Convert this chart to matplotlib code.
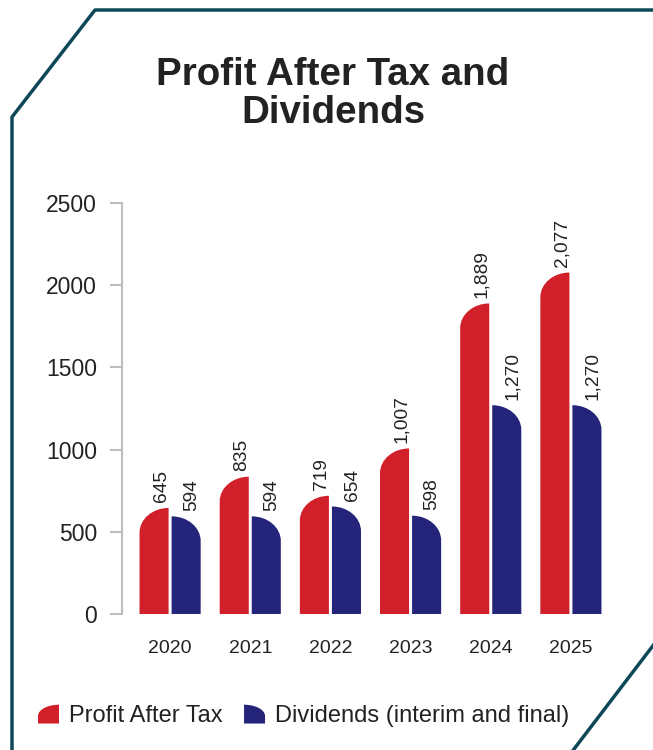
import matplotlib.pyplot as plt
from matplotlib.path import Path
from matplotlib.patches import PathPatch, Rectangle
from matplotlib.legend_handler import HandlerPatch
from matplotlib.lines import Line2D

plt.rcParams['font.family'] = ['Liberation Sans', 'DejaVu Sans']

years = ['2020', '2021', '2022', '2023', '2024', '2025']
profit_after_tax = [645, 835, 719, 1007, 1889, 2077]
dividends = [594, 594, 654, 598, 1270, 1270]

RED = '#d2202a'
BLUE = '#24247a'
FRAME = '#0e4757'
TEXT = '#222222'

bar_w = 0.3625
gap = 0.0375
corner_y = 150  # vertical radius of the rounded corner, data units


def rounded_bar(x0, w, h, ry, side):
    # bar with one rounded top corner (quarter ellipse spanning the bar width)
    k = 0.5523
    x1 = x0 + w
    if side == 'left':
        verts = [(x0, 0), (x1, 0), (x1, h),
                 (x1 - k * w, h), (x0, h - ry + k * ry), (x0, h - ry),
                 (x0, 0)]
    else:
        verts = [(x0, 0), (x1, 0), (x1, h - ry),
                 (x1, h - ry + k * ry), (x0 + k * w, h), (x0, h),
                 (x0, 0)]
    codes = [Path.MOVETO, Path.LINETO, Path.LINETO,
             Path.CURVE4, Path.CURVE4, Path.CURVE4, Path.CLOSEPOLY]
    return Path(verts, codes)


fig = plt.figure(figsize=(6.53, 7.5), dpi=100)
ax = fig.add_axes([122 / 653, 136 / 750, 497 / 653, 411 / 750])

for i, (p, d) in enumerate(zip(profit_after_tax, dividends)):
    xr = i - gap / 2 - bar_w
    xb = i + gap / 2
    ry_p = min(corner_y, p)
    ry_d = min(corner_y, d)
    ax.add_patch(PathPatch(rounded_bar(xr, bar_w, p, ry_p, 'left'),
                           facecolor=RED, edgecolor='none'))
    ax.add_patch(PathPatch(rounded_bar(xb, bar_w, d, ry_d, 'right'),
                           facecolor=BLUE, edgecolor='none'))
    ax.annotate(f'{p:,}', (xr + bar_w / 2, p), xytext=(5, 4),
                textcoords='offset points', rotation=90, ha='center',
                va='bottom', fontsize=13.8, color=TEXT)
    ax.annotate(f'{d:,}', (xb + bar_w / 2, d), xytext=(4, 4),
                textcoords='offset points', rotation=90, ha='center',
                va='bottom', fontsize=13.8, color=TEXT)

ax.set_xlim(-0.6, 5.6)
ax.set_ylim(0, 2500)
ax.set_xticks(range(len(years)))
ax.set_xticklabels(years)
ax.set_yticks([0, 500, 1000, 1500, 2000, 2500])
ax.tick_params(axis='x', length=0, pad=19, labelsize=14, labelcolor=TEXT)
ax.tick_params(axis='y', length=9, width=1.5, color='#bdbdbd', pad=9,
               labelsize=16.5, labelcolor=TEXT)
for s in ['top', 'right', 'bottom']:
    ax.spines[s].set_visible(False)
ax.spines['left'].set_color('#bdbdbd')
ax.spines['left'].set_linewidth(1.5)
ax.patch.set_visible(False)

fig.text(333 / 653, 1 - 94 / 750, 'Profit After Tax and\nDividends',
         ha='center', va='center', fontsize=27.7, fontweight='bold',
         color=TEXT, linespacing=1.1)


# legend with the same rounded-corner shapes as the bars
def make_handle(side):
    def fn(legend, orig_handle, xdescent, ydescent, width, height, fontsize):
        v = rounded_bar(-xdescent, width, height, height * 0.6, side)
        verts = [(x, y - ydescent) for x, y in v.vertices]
        return PathPatch(Path(verts, v.codes))
    return fn


h_red = Rectangle((0, 0), 1, 1, facecolor=RED, edgecolor='none')
h_blue = Rectangle((0, 0), 1, 1, facecolor=BLUE, edgecolor='none')
fig.legend([h_red, h_blue], ['Profit After Tax', 'Dividends (interim and final)'],
           handler_map={h_red: HandlerPatch(patch_func=make_handle('left')),
                        h_blue: HandlerPatch(patch_func=make_handle('right'))},
           loc='center left', bbox_to_anchor=(38 / 653, 1 - 716 / 750),
           ncol=2, frameon=False, fontsize=17, handlelength=0.89,
           handleheight=0.85, handletextpad=0.43, columnspacing=0.9,
           borderpad=0, borderaxespad=0, labelcolor=TEXT)

# outline of the panel
fig.add_artist(Line2D([12 / 653, 12 / 653, 95 / 653, 1.02],
                      [-0.01, 1 - 117 / 750, 1 - 10 / 750, 1 - 10 / 750],
                      color=FRAME, lw=2.5, transform=fig.transFigure))
fig.add_artist(Line2D([571 / 653, 655 / 653],
                      [1 - 753 / 750, 1 - 643 / 750],
                      color=FRAME, lw=2.5, transform=fig.transFigure))

fig.savefig('out.png', dpi=100)
